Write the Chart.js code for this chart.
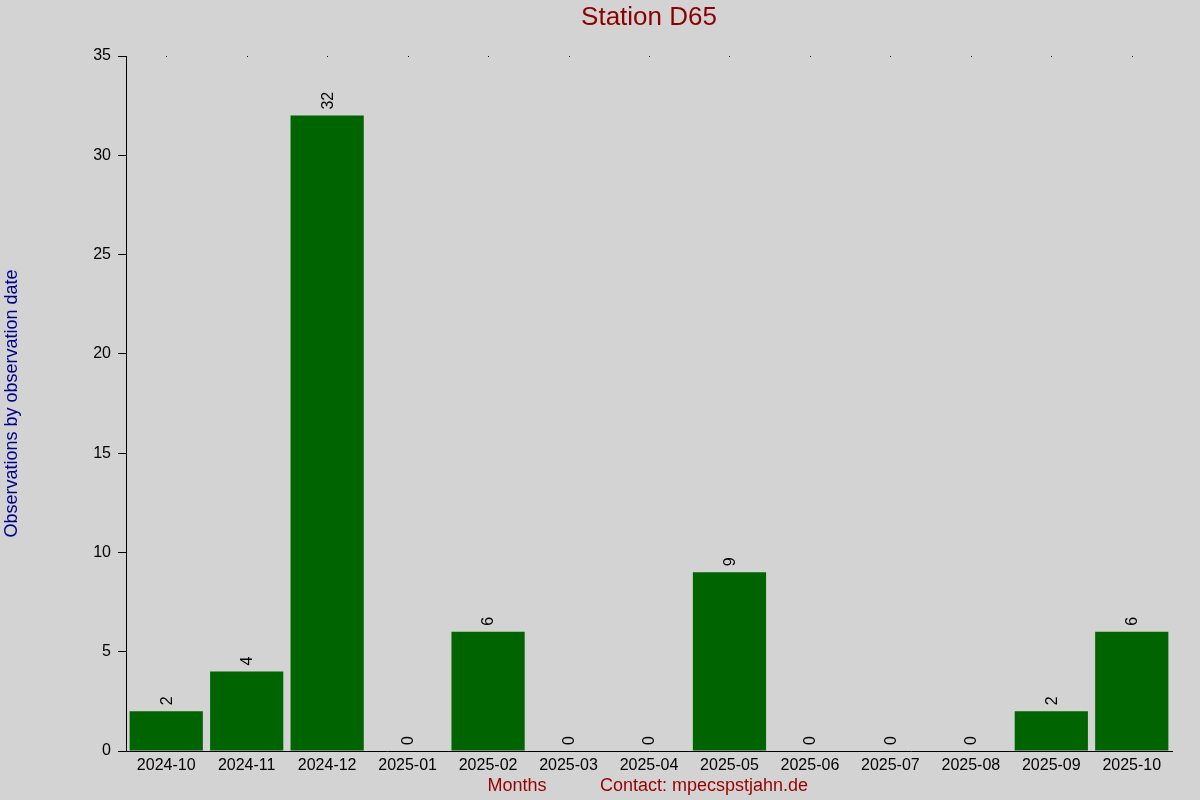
<!DOCTYPE html>
<html>
<head>
<meta charset="utf-8">
<script src="https://cdn.jsdelivr.net/npm/chart.js@4/dist/chart.umd.min.js"></script>
<style>
html,body{margin:0;padding:0;background:#d3d3d3;}
#wrap{width:1200px;height:800px;position:relative;}
</style>
</head>
<body>
<div id="wrap"><canvas id="c" width="1200" height="800"></canvas></div>
<script>
const months = ["2024-10","2024-11","2024-12","2025-01","2025-02","2025-03","2025-04","2025-05","2025-06","2025-07","2025-08","2025-09","2025-10"];
const observations = [2,4,32,0,6,0,0,9,0,0,0,2,6];
const yTicks = [0,5,10,15,20,25,30,35];
const titleText = "Station D65";
const yTitle = "Observations by observation date";
const xTitle = "Months";
const contactText = "Contact: mpecspstjahn.de";

const FONT = "'Liberation Sans', Arial, sans-serif";

const bgPlugin = {
  id: 'bg',
  beforeDraw(chart) {
    const ctx = chart.ctx;
    ctx.save();
    ctx.fillStyle = '#d3d3d3';
    ctx.fillRect(0, 0, chart.width, chart.height);
    ctx.restore();
  }
};

const decorPlugin = {
  id: 'decor',
  afterDatasetsDraw(chart) {
    const ctx = chart.ctx;
    const xs = chart.scales.x, ys = chart.scales.y;
    const meta = chart.getDatasetMeta(0);
    ctx.save();
    // value labels
    ctx.fillStyle = '#000';
    ctx.font = '16px ' + FONT;
    ctx.textAlign = 'left';
    ctx.textBaseline = 'middle';
    meta.data.forEach((bar, i) => {
      const v = observations[i];
      ctx.save();
      ctx.translate(bar.x, ys.getPixelForValue(v) - 6);
      ctx.rotate(-Math.PI / 2);
      ctx.fillText(String(v), 0, 1);
      ctx.restore();
    });
    // top dots
    ctx.fillStyle = '#000';
    const top = Math.round(chart.chartArea.top);
    months.forEach((m, i) => {
      const x = Math.round(xs.getPixelForValue(i));
      ctx.fillRect(x, top, 1, 1);
    });
    // title
    const cx = (chart.chartArea.left + chart.chartArea.right) / 2;
    ctx.fillStyle = '#8b0000';
    ctx.font = '26px ' + FONT;
    ctx.textAlign = 'center';
    ctx.textBaseline = 'middle';
    ctx.fillText(titleText, cx, 18);
    // x titles
    ctx.font = '18px ' + FONT;
    ctx.fillStyle = '#990000';
    ctx.fillText(xTitle, 517, 786);
    ctx.fillText(contactText, 704, 786);
    // y title
    ctx.fillStyle = '#00008b';
    ctx.save();
    ctx.translate(12, (chart.chartArea.top + chart.chartArea.bottom) / 2);
    ctx.rotate(-Math.PI / 2);
    ctx.fillText(yTitle, 0, 0);
    ctx.restore();
    ctx.restore();
  }
};

new Chart(document.getElementById('c'), {
  type: 'bar',
  data: {
    labels: months,
    datasets: [{
      data: observations,
      backgroundColor: '#006400',
      borderWidth: 0,
      barPercentage: 0.91,
      categoryPercentage: 1.0
    }]
  },
  options: {
    responsive: false,
    animation: false,
    devicePixelRatio: 1,
    layout: { padding: { top: 56, left: 0, right: 28, bottom: 0 } },
    plugins: { legend: { display: false }, tooltip: { enabled: false }, title: { display: false } },
    scales: {
      x: {
        grid: { display: false, drawTicks: false },
        border: { display: true, color: '#000', width: 1 },
        ticks: { color: '#000', font: { family: FONT, size: 16 }, padding: 5, maxRotation: 0, autoSkip: false },
        afterFit(s) { s.height = 49; }
      },
      y: {
        min: 0, max: 35,
        afterBuildTicks(s) { s.ticks = yTicks.map(v => ({ value: v })); },
        grid: { display: true, drawOnChartArea: false, drawTicks: true, tickLength: 8, color: '#000', lineWidth: 1 },
        border: { display: true, color: '#000', width: 1 },
        ticks: { color: '#000', font: { family: FONT, size: 16 }, padding: 7 },
        afterFit(s) { s.width = 126; }
      }
    }
  },
  plugins: [bgPlugin, decorPlugin]
});
</script>
</body>
</html>
